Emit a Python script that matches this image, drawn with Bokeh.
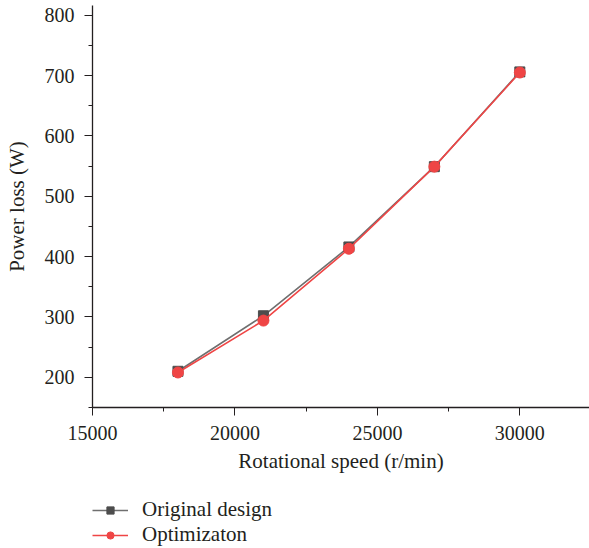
from bokeh.plotting import figure
from bokeh.layouts import column
from bokeh.models import Range1d, SingleIntervalTicker, Legend, LegendItem
from bokeh.embed import file_html
from bokeh.resources import INLINE

speed = [18000, 21000, 24000, 27000, 30000]
original = [210, 302, 416, 549, 706]
optimized = [208, 294, 413, 549, 705]
series_names = ["Original design", "Optimizaton"]

FONT = "Liberation Serif"
TXT = "#231f20"
GRAY_LINE, GRAY_MARK = "#6f6f6f", "#4d4d4d"
RED = "#ef4545"

p = figure(width=589, height=480, output_backend="svg", toolbar_location=None,
           x_range=Range1d(15000, 32446), y_range=Range1d(150, 816),
           min_border_left=92, min_border_right=0, min_border_top=5, min_border_bottom=73)
p.outline_line_color = None
p.xgrid.visible = False
p.ygrid.visible = False

for ax, interval in ((p.xaxis[0], 5000), (p.yaxis[0], 100)):
    ax.ticker = SingleIntervalTicker(interval=interval, num_minor_ticks=2)
    ax.axis_line_color = TXT
    ax.axis_line_width = 1.3
    ax.major_tick_line_color = TXT
    ax.minor_tick_line_color = TXT
    ax.major_tick_out = 8
    ax.major_tick_in = 0
    ax.minor_tick_out = 4
    ax.minor_tick_in = 0
    ax.major_label_text_font = FONT
    ax.major_label_text_font_size = "20px"
    ax.major_label_text_color = TXT
    ax.major_label_standoff = 10
    ax.axis_label_text_font = FONT
    ax.axis_label_text_font_size = "21px"
    ax.axis_label_text_font_style = "normal"
    ax.axis_label_text_color = TXT

p.xaxis.axis_label = "Rotational speed (r/min)"
p.yaxis.axis_label = "Power loss (W)"
p.xaxis.axis_label_standoff = 6
p.yaxis.axis_label_standoff = 13

p.line(speed, original, line_color=GRAY_LINE, line_width=1.6)
p.scatter(speed, original, marker="square", size=10, fill_color=GRAY_MARK, line_color=GRAY_MARK)
p.line(speed, optimized, line_color=RED, line_width=1.6)
p.scatter(speed, optimized, marker="circle", size=11, fill_color=RED, line_color=RED)

# legend panel (same series, drawn outside this panel's visible range)
q = figure(width=589, height=68, output_backend="svg", toolbar_location=None,
           x_range=Range1d(0, 1), y_range=Range1d(0, 1),
           x_axis_type=None, y_axis_type=None,
           min_border_left=92, min_border_right=0, min_border_top=17, min_border_bottom=0)
q.outline_line_color = None
q.xgrid.visible = False
q.ygrid.visible = False
ql1 = q.line(speed, original, line_color=GRAY_LINE, line_width=1.6)
qm1 = q.scatter(speed, original, marker="square", size=10, fill_color=GRAY_MARK, line_color=GRAY_MARK)
ql2 = q.line(speed, optimized, line_color=RED, line_width=1.6)
qm2 = q.scatter(speed, optimized, marker="circle", size=11, fill_color=RED, line_color=RED)

legend = Legend(items=[LegendItem(label=series_names[0], renderers=[ql1, qm1]),
                       LegendItem(label=series_names[1], renderers=[ql2, qm2])],
                location="top_left", orientation="vertical",
                glyph_width=36, glyph_height=18, label_height=18, spacing=0,
                label_standoff=14, padding=0, margin=0,
                border_line_color=None, background_fill_alpha=0,
                label_text_font=FONT, label_text_font_size="21px", label_text_color=TXT)
q.add_layout(legend, "center")

layout = column(p, q, spacing=0)
open("out.html", "w").write(file_html(layout, INLINE))
